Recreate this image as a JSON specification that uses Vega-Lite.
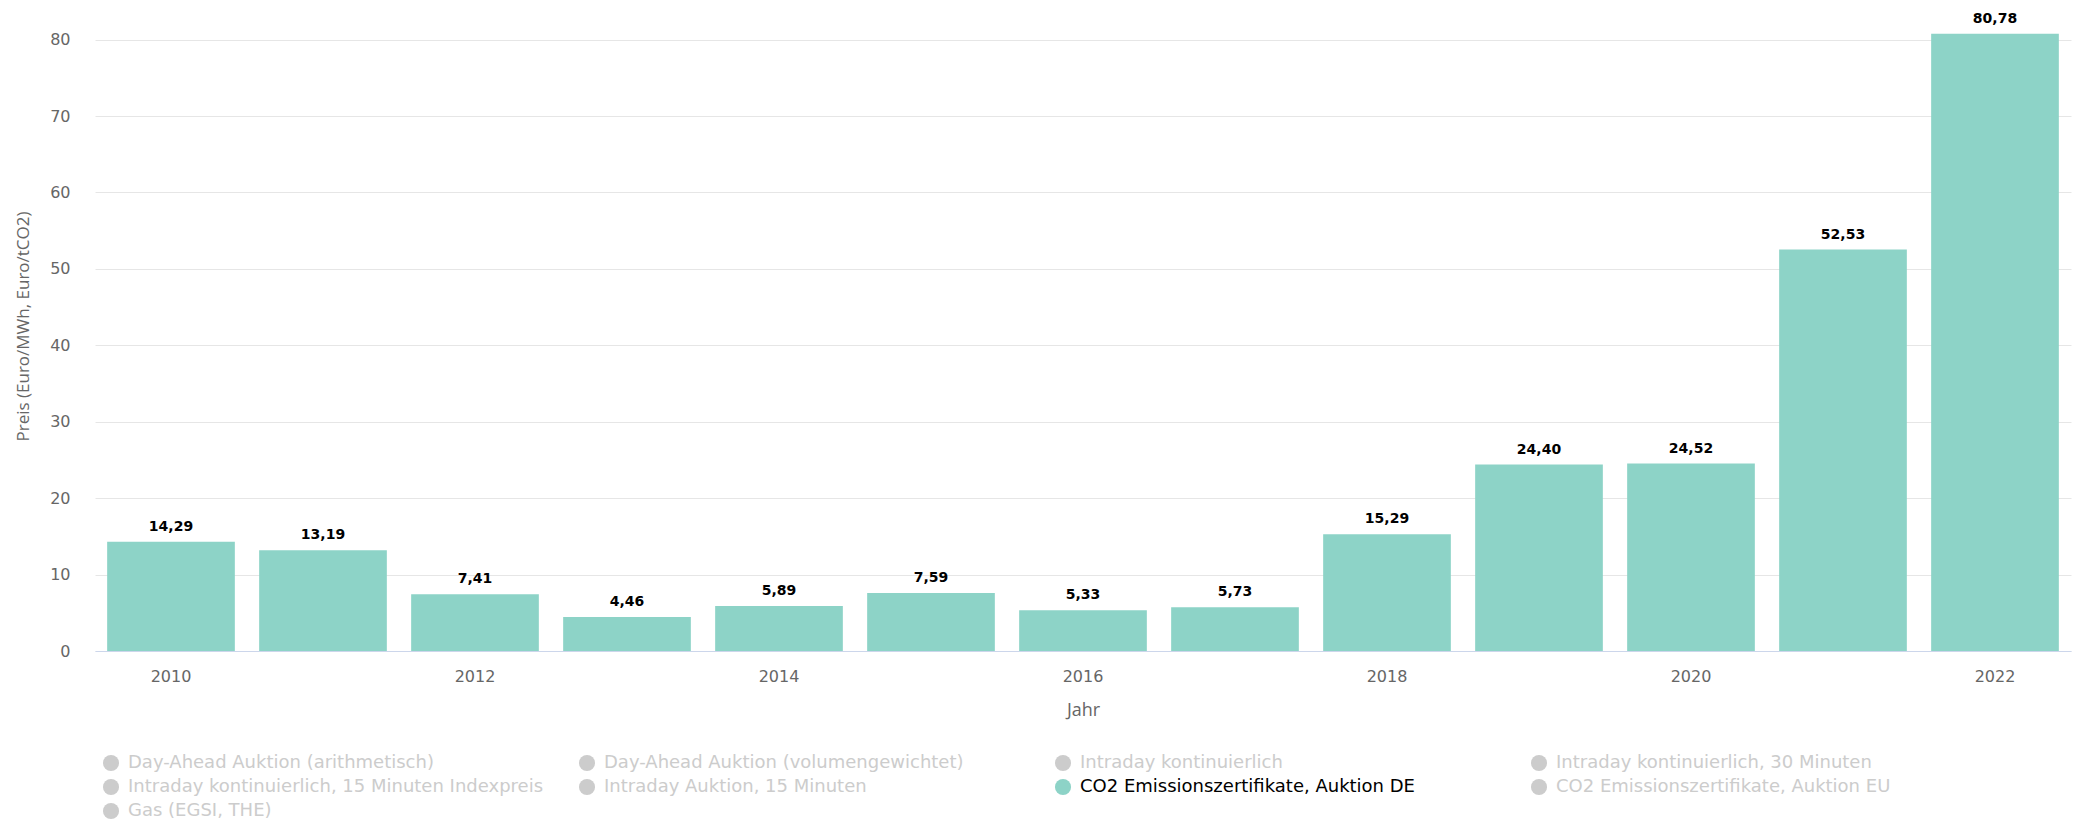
{
  "$schema": "https://vega.github.io/schema/vega-lite/v6.json",
  "autosize": {"type": "none"},
  "width": 1976,
  "height": 619,
  "padding": {"left": 95, "top": 32, "right": 7, "bottom": 170},
  "background": "#ffffff",
  "config": {
    "view": {"stroke": null},
    "locale": {"number": {"decimal": ",", "thousands": ".", "grouping": [3], "currency": ["", " €"]}}
  },
  "data": {
    "values": [
      {"Jahr": 2010, "Preis": 14.29, "Serie": "CO2 Emissionszertifikate, Auktion DE"},
      {"Jahr": 2011, "Preis": 13.19, "Serie": "CO2 Emissionszertifikate, Auktion DE"},
      {"Jahr": 2012, "Preis": 7.41, "Serie": "CO2 Emissionszertifikate, Auktion DE"},
      {"Jahr": 2013, "Preis": 4.46, "Serie": "CO2 Emissionszertifikate, Auktion DE"},
      {"Jahr": 2014, "Preis": 5.89, "Serie": "CO2 Emissionszertifikate, Auktion DE"},
      {"Jahr": 2015, "Preis": 7.59, "Serie": "CO2 Emissionszertifikate, Auktion DE"},
      {"Jahr": 2016, "Preis": 5.33, "Serie": "CO2 Emissionszertifikate, Auktion DE"},
      {"Jahr": 2017, "Preis": 5.73, "Serie": "CO2 Emissionszertifikate, Auktion DE"},
      {"Jahr": 2018, "Preis": 15.29, "Serie": "CO2 Emissionszertifikate, Auktion DE"},
      {"Jahr": 2019, "Preis": 24.40, "Serie": "CO2 Emissionszertifikate, Auktion DE"},
      {"Jahr": 2020, "Preis": 24.52, "Serie": "CO2 Emissionszertifikate, Auktion DE"},
      {"Jahr": 2021, "Preis": 52.53, "Serie": "CO2 Emissionszertifikate, Auktion DE"},
      {"Jahr": 2022, "Preis": 80.78, "Serie": "CO2 Emissionszertifikate, Auktion DE"}
    ]
  },
  "encoding": {
    "x": {
      "field": "Jahr",
      "type": "ordinal",
      "scale": {"paddingInner": 0.16, "paddingOuter": 0.08},
      "axis": {
        "title": "Jahr",
        "values": [2010, 2012, 2014, 2016, 2018, 2020, 2022],
        "labelAngle": 0,
        "labelFont": "DejaVu Sans",
        "labelFontSize": 16,
        "labelColor": "#666666",
        "labelPadding": 17,
        "ticks": false,
        "tickSize": 0,
        "domainColor": "#ccd6eb",
        "domainWidth": 1,
        "titleFont": "Open Sans",
        "titleFontSize": 18,
        "titleFontWeight": "normal",
        "titleColor": "#666666",
        "titlePadding": 17,
        "grid": false
      }
    },
    "y": {
      "field": "Preis",
      "type": "quantitative",
      "scale": {"domain": [0, 81], "nice": false},
      "axis": {
        "title": "Preis (Euro/MWh, Euro/tCO2)",
        "values": [0, 10, 20, 30, 40, 50, 60, 70, 80],
        "format": "d",
        "labelFont": "DejaVu Sans",
        "labelFontSize": 16,
        "labelColor": "#666666",
        "labelPadding": 25,
        "ticks": false,
        "tickSize": 0,
        "domain": false,
        "grid": true,
        "gridColor": "#e6e6e6",
        "gridWidth": 1,
        "titleFont": "Open Sans",
        "titleFontSize": 17,
        "titleFontWeight": "normal",
        "titleColor": "#666666",
        "titlePadding": 17,
        "titleY": 294
      }
    }
  },
  "layer": [
    {
      "mark": {"type": "bar", "opacity": 1},
      "encoding": {
        "color": {
          "field": "Serie",
          "type": "nominal",
          "scale": {
            "domain": [
              "Day-Ahead Auktion (arithmetisch)",
              "Day-Ahead Auktion (volumengewichtet)",
              "Intraday kontinuierlich",
              "Intraday kontinuierlich, 30 Minuten",
              "Intraday kontinuierlich, 15 Minuten Indexpreis",
              "Intraday Auktion, 15 Minuten",
              "CO2 Emissionszertifikate, Auktion DE",
              "CO2 Emissionszertifikate, Auktion EU",
              "Gas (EGSI, THE)"
            ],
            "range": ["#cccccc", "#cccccc", "#cccccc", "#cccccc", "#cccccc", "#cccccc", "#8dd3c7", "#cccccc", "#cccccc"]
          },
          "legend": {
            "title": null,
            "orient": "none",
            "legendX": 7,
            "legendY": 722,
            "direction": "horizontal",
            "columns": 4,
            "gridAlign": "all",
            "columnPadding": 34,
            "rowPadding": 6,
            "padding": 0,
            "symbolType": "circle",
            "symbolSize": 260,
            "symbolOpacity": 1,
            "symbolStrokeWidth": 0,
            "labelFont": "DejaVu Sans",
            "labelFontSize": 18,
            "labelColor": "#cccccc",
            "labelOffset": 8,
            "labelLimit": 600,
            "encode": {
              "labels": {
                "update": {
                  "fill": {"signal": "datum.value === 'CO2 Emissionszertifikate, Auktion DE' ? '#000000' : '#cccccc'"}
                }
              }
            }
          }
        }
      }
    },
    {
      "mark": {
        "type": "text",
        "font": "DejaVu Sans",
        "fontSize": 14,
        "fontWeight": "bold",
        "color": "#000000",
        "baseline": "alphabetic",
        "dy": -11
      },
      "encoding": {
        "text": {"field": "Preis", "type": "quantitative", "format": ".2f"}
      }
    }
  ]
}
